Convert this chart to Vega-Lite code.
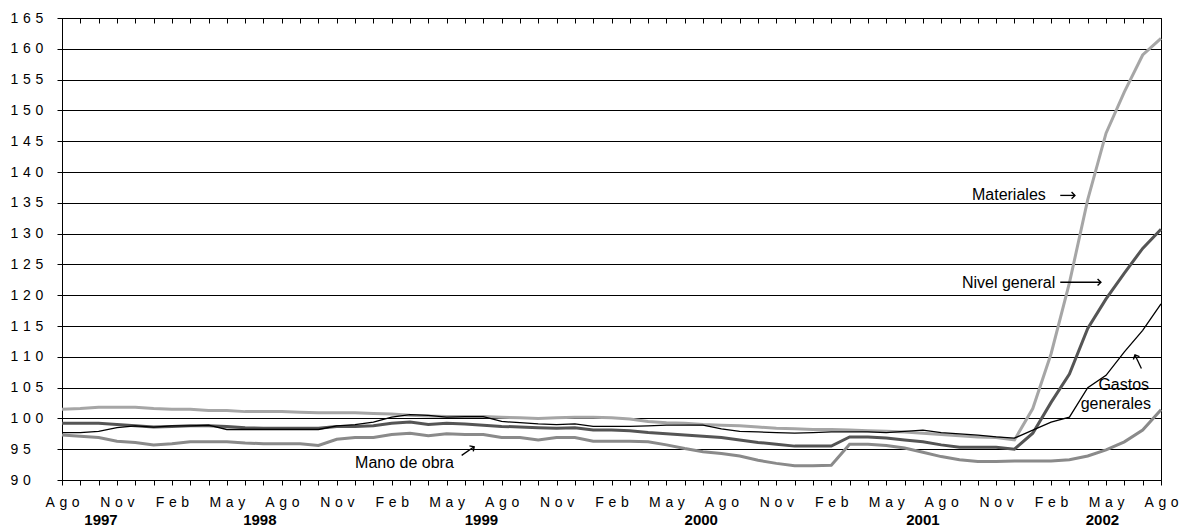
{
  "$schema": "https://vega.github.io/schema/vega-lite/v6.json",
  "width": 1099,
  "height": 462,
  "autosize": "none",
  "padding": {"left": 62, "top": 18, "right": 19, "bottom": 49},
  "background": "white",
  "config": {
    "view": {"stroke": "black", "strokeWidth": 1},
    "axis": {"labelFont": "Liberation Sans", "labelFontSize": 14, "labelColor": "black", "domainColor": "black", "tickColor": "black", "title": null},
    "text": {"font": "Liberation Sans", "color": "black"}
  },
  "datasets": {
    "series": [
      {"mes":0,"Materiales":101.5,"Nivel general":99.2,"Gastos generales":97.7,"Mano de obra":97.3},
      {"mes":1,"Materiales":101.6,"Nivel general":99.2,"Gastos generales":97.7,"Mano de obra":97.1},
      {"mes":2,"Materiales":101.8,"Nivel general":99.2,"Gastos generales":97.9,"Mano de obra":96.9},
      {"mes":3,"Materiales":101.8,"Nivel general":99.0,"Gastos generales":98.5,"Mano de obra":96.3},
      {"mes":4,"Materiales":101.8,"Nivel general":98.8,"Gastos generales":98.8,"Mano de obra":96.1},
      {"mes":5,"Materiales":101.6,"Nivel general":98.6,"Gastos generales":98.6,"Mano de obra":95.7},
      {"mes":6,"Materiales":101.5,"Nivel general":98.7,"Gastos generales":98.8,"Mano de obra":95.9},
      {"mes":7,"Materiales":101.5,"Nivel general":98.8,"Gastos generales":98.8,"Mano de obra":96.2},
      {"mes":8,"Materiales":101.3,"Nivel general":98.8,"Gastos generales":98.9,"Mano de obra":96.2},
      {"mes":9,"Materiales":101.3,"Nivel general":98.7,"Gastos generales":98.2,"Mano de obra":96.2},
      {"mes":10,"Materiales":101.1,"Nivel general":98.5,"Gastos generales":98.2,"Mano de obra":96.0},
      {"mes":11,"Materiales":101.1,"Nivel general":98.4,"Gastos generales":98.2,"Mano de obra":95.9},
      {"mes":12,"Materiales":101.1,"Nivel general":98.4,"Gastos generales":98.2,"Mano de obra":95.9},
      {"mes":13,"Materiales":101.0,"Nivel general":98.4,"Gastos generales":98.2,"Mano de obra":95.9},
      {"mes":14,"Materiales":100.9,"Nivel general":98.4,"Gastos generales":98.2,"Mano de obra":95.6},
      {"mes":15,"Materiales":100.9,"Nivel general":98.7,"Gastos generales":98.8,"Mano de obra":96.6},
      {"mes":16,"Materiales":100.9,"Nivel general":98.7,"Gastos generales":99.0,"Mano de obra":96.9},
      {"mes":17,"Materiales":100.8,"Nivel general":98.8,"Gastos generales":99.4,"Mano de obra":96.9},
      {"mes":18,"Materiales":100.7,"Nivel general":99.2,"Gastos generales":100.2,"Mano de obra":97.4},
      {"mes":19,"Materiales":100.5,"Nivel general":99.4,"Gastos generales":100.6,"Mano de obra":97.6},
      {"mes":20,"Materiales":100.4,"Nivel general":99.0,"Gastos generales":100.5,"Mano de obra":97.2},
      {"mes":21,"Materiales":100.3,"Nivel general":99.2,"Gastos generales":100.2,"Mano de obra":97.5},
      {"mes":22,"Materiales":100.3,"Nivel general":99.1,"Gastos generales":100.3,"Mano de obra":97.4},
      {"mes":23,"Materiales":100.3,"Nivel general":98.9,"Gastos generales":100.3,"Mano de obra":97.4},
      {"mes":24,"Materiales":100.2,"Nivel general":98.7,"Gastos generales":99.5,"Mano de obra":96.9},
      {"mes":25,"Materiales":100.1,"Nivel general":98.6,"Gastos generales":99.3,"Mano de obra":96.9},
      {"mes":26,"Materiales":100.0,"Nivel general":98.5,"Gastos generales":99.1,"Mano de obra":96.5},
      {"mes":27,"Materiales":100.1,"Nivel general":98.4,"Gastos generales":99.0,"Mano de obra":96.9},
      {"mes":28,"Materiales":100.2,"Nivel general":98.5,"Gastos generales":99.1,"Mano de obra":96.9},
      {"mes":29,"Materiales":100.2,"Nivel general":98.1,"Gastos generales":98.7,"Mano de obra":96.3},
      {"mes":30,"Materiales":100.1,"Nivel general":98.1,"Gastos generales":98.7,"Mano de obra":96.3},
      {"mes":31,"Materiales":99.9,"Nivel general":98.0,"Gastos generales":98.7,"Mano de obra":96.3},
      {"mes":32,"Materiales":99.5,"Nivel general":97.7,"Gastos generales":98.8,"Mano de obra":96.2},
      {"mes":33,"Materiales":99.3,"Nivel general":97.5,"Gastos generales":98.9,"Mano de obra":95.7},
      {"mes":34,"Materiales":99.2,"Nivel general":97.3,"Gastos generales":98.9,"Mano de obra":95.1},
      {"mes":35,"Materiales":99.0,"Nivel general":97.1,"Gastos generales":98.9,"Mano de obra":94.6},
      {"mes":36,"Materiales":98.9,"Nivel general":96.9,"Gastos generales":98.3,"Mano de obra":94.3},
      {"mes":37,"Materiales":98.8,"Nivel general":96.5,"Gastos generales":97.9,"Mano de obra":93.9},
      {"mes":38,"Materiales":98.6,"Nivel general":96.1,"Gastos generales":97.8,"Mano de obra":93.2},
      {"mes":39,"Materiales":98.4,"Nivel general":95.8,"Gastos generales":97.7,"Mano de obra":92.7},
      {"mes":40,"Materiales":98.3,"Nivel general":95.5,"Gastos generales":97.6,"Mano de obra":92.3},
      {"mes":41,"Materiales":98.2,"Nivel general":95.5,"Gastos generales":97.7,"Mano de obra":92.3},
      {"mes":42,"Materiales":98.2,"Nivel general":95.5,"Gastos generales":97.8,"Mano de obra":92.4},
      {"mes":43,"Materiales":98.1,"Nivel general":97.0,"Gastos generales":97.8,"Mano de obra":95.8},
      {"mes":44,"Materiales":98.0,"Nivel general":97.0,"Gastos generales":97.8,"Mano de obra":95.8},
      {"mes":45,"Materiales":97.9,"Nivel general":96.8,"Gastos generales":97.7,"Mano de obra":95.6},
      {"mes":46,"Materiales":97.8,"Nivel general":96.5,"Gastos generales":97.9,"Mano de obra":95.2},
      {"mes":47,"Materiales":97.6,"Nivel general":96.2,"Gastos generales":98.1,"Mano de obra":94.5},
      {"mes":48,"Materiales":97.4,"Nivel general":95.7,"Gastos generales":97.7,"Mano de obra":93.8},
      {"mes":49,"Materiales":97.2,"Nivel general":95.3,"Gastos generales":97.5,"Mano de obra":93.3},
      {"mes":50,"Materiales":97.0,"Nivel general":95.3,"Gastos generales":97.3,"Mano de obra":93.0},
      {"mes":51,"Materiales":96.9,"Nivel general":95.3,"Gastos generales":97.0,"Mano de obra":93.0},
      {"mes":52,"Materiales":96.5,"Nivel general":95.0,"Gastos generales":96.8,"Mano de obra":93.1},
      {"mes":53,"Materiales":101.6,"Nivel general":97.6,"Gastos generales":98.1,"Mano de obra":93.1},
      {"mes":54,"Materiales":110.5,"Nivel general":102.6,"Gastos generales":99.4,"Mano de obra":93.1},
      {"mes":55,"Materiales":122.0,"Nivel general":107.2,"Gastos generales":100.2,"Mano de obra":93.3},
      {"mes":56,"Materiales":135.5,"Nivel general":114.6,"Gastos generales":105.0,"Mano de obra":93.9},
      {"mes":57,"Materiales":146.3,"Nivel general":119.4,"Gastos generales":107.0,"Mano de obra":94.9},
      {"mes":58,"Materiales":153.0,"Nivel general":123.6,"Gastos generales":110.8,"Mano de obra":96.2},
      {"mes":59,"Materiales":159.0,"Nivel general":127.6,"Gastos generales":114.3,"Mano de obra":98.1},
      {"mes":60,"Materiales":161.7,"Nivel general":130.7,"Gastos generales":118.6,"Mano de obra":101.4}
    ],
    "years": [
      {"anio":"1997","mes":2.13},
      {"anio":"1998","mes":10.8},
      {"anio":"1999","mes":22.9},
      {"anio":"2000","mes":34.9},
      {"anio":"2001","mes":47.0},
      {"anio":"2002","mes":56.8}
    ],
    "notesLeft": [
      {"texto":"Materiales","mes":49.68,"valor":136.3},
      {"texto":"Nivel general","mes":49.13,"valor":122.0},
      {"texto":"Mano de obra","mes":16.0,"valor":92.76}
    ],
    "notesRight": [
      {"texto":"Gastos","mes":59.35,"valor":105.4},
      {"texto":"generales","mes":59.45,"valor":102.3}
    ],
    "arrowLines": [
      {"x1":54.5,"x2":55.3,"y1":136.2,"y2":136.2},
      {"x1":54.5,"x2":56.72,"y1":122.1,"y2":122.1},
      {"x1":21.82,"x2":22.5,"y1":94.0,"y2":95.4},
      {"x1":58.93,"x2":58.58,"y1":108.1,"y2":110.3}
    ],
    "arrowHeads": [
      {"mes":55.3,"valor":136.2,"rumbo":0},
      {"mes":56.72,"valor":122.1,"rumbo":0},
      {"mes":22.5,"valor":95.4,"rumbo":-35},
      {"mes":58.58,"valor":110.3,"rumbo":-115}
    ]
  },
  "resolve": {"axis": {"x": "independent", "y": "independent"}},
  "layer": [
    {
      "data": {"name": "series"},
      "transform": [
        {"fold": ["Materiales", "Mano de obra", "Nivel general"], "as": ["serie", "valor"]}
      ],
      "mark": {"type": "line", "strokeWidth": 3},
      "encoding": {
        "x": {
          "field": "mes", "type": "quantitative",
          "scale": {"domain": [0, 60], "nice": false, "zero": false},
          "axis": {
            "values": [0,1,2,3,4,5,6,7,8,9,10,11,12,13,14,15,16,17,18,19,20,21,22,23,24,25,26,27,28,29,30,31,32,33,34,35,36,37,38,39,40,41,42,43,44,45,46,47,48,49,50,51,52,53,54,55,56,57,58,59,60],
            "labelExpr": "datum.value % 3 == 0 ? ['A\u2004g\u2004o','N\u2004o\u2004v','F\u2004e\u2004b','M\u2004a\u2004y'][(datum.value/3) % 4] : ''",
            "tickSize": 5, "labelPadding": 10, "grid": false, "labelOverlap": false, "labelFlush": false, "labelBound": false
          }
        },
        "y": {
          "field": "valor", "type": "quantitative",
          "scale": {"domain": [90, 165], "nice": false, "zero": false},
          "axis": {
            "values": [90,95,100,105,110,115,120,125,130,135,140,145,150,155,160,165],
            "labelExpr": "join(split(datum.label, ''), '\u2004')",
            "labelAlign": "left", "labelBaseline": "middle", "labelOverlap": false,
            "tickSize": 5, "labelPadding": 47,
            "grid": true, "gridColor": "black", "gridOpacity": 1, "gridWidth": 1
          }
        },
        "color": {
          "field": "serie", "type": "nominal",
          "scale": {"domain": ["Materiales", "Mano de obra", "Nivel general"], "range": ["#a6a6a6", "#8a8a8a", "#555555"]},
          "legend": null
        }
      }
    },
    {
      "data": {"name": "series"},
      "mark": {"type": "line", "strokeWidth": 1.3, "color": "black"},
      "encoding": {
        "x": {"field": "mes", "type": "quantitative", "axis": null},
        "y": {"field": "Gastos generales", "type": "quantitative", "axis": null}
      }
    },
    {
      "data": {"name": "years"},
      "mark": {"type": "text", "fontSize": 15, "fontWeight": "bold", "baseline": "middle", "align": "center", "dy": 40},
      "encoding": {
        "x": {
          "field": "mes", "type": "quantitative",
          "axis": {
            "values": [0,1,2,3,4,5,6,7,8,9,10,11,12,13,14,15,16,17,18,19,20,21,22,23,24,25,26,27,28,29,30,31,32,33,34,35,36,37,38,39,40,41,42,43,44,45,46,47,48,49,50,51,52,53,54,55,56,57,58,59,60],
            "labels": false, "domain": false, "grid": false, "tickSize": -5
          }
        },
        "y": {"datum": 90, "type": "quantitative", "axis": null},
        "text": {"field": "anio"}
      }
    },
    {
      "data": {"name": "notesLeft"},
      "mark": {"type": "text", "fontSize": 16, "align": "left", "baseline": "middle"},
      "encoding": {
        "x": {"field": "mes", "type": "quantitative", "axis": null},
        "y": {"field": "valor", "type": "quantitative", "axis": null},
        "text": {"field": "texto"}
      }
    },
    {
      "data": {"name": "notesRight"},
      "mark": {"type": "text", "fontSize": 16, "align": "right", "baseline": "middle"},
      "encoding": {
        "x": {"field": "mes", "type": "quantitative", "axis": null},
        "y": {"field": "valor", "type": "quantitative", "axis": null},
        "text": {"field": "texto"}
      }
    },
    {
      "data": {"name": "arrowLines"},
      "mark": {"type": "rule", "color": "black", "strokeWidth": 1.3},
      "encoding": {
        "x": {"field": "x1", "type": "quantitative", "axis": null},
        "x2": {"field": "x2"},
        "y": {"field": "y1", "type": "quantitative", "axis": null},
        "y2": {"field": "y2"}
      }
    },
    {
      "data": {"name": "arrowHeads"},
      "mark": {"type": "point", "shape": "M-1,-1L0,0L-1,1", "size": 45, "filled": false, "stroke": "black", "strokeWidth": 1.4, "opacity": 1},
      "encoding": {
        "x": {"field": "mes", "type": "quantitative", "axis": null},
        "y": {"field": "valor", "type": "quantitative", "axis": null},
        "angle": {"field": "rumbo", "type": "quantitative", "scale": null}
      }
    }
  ]
}
